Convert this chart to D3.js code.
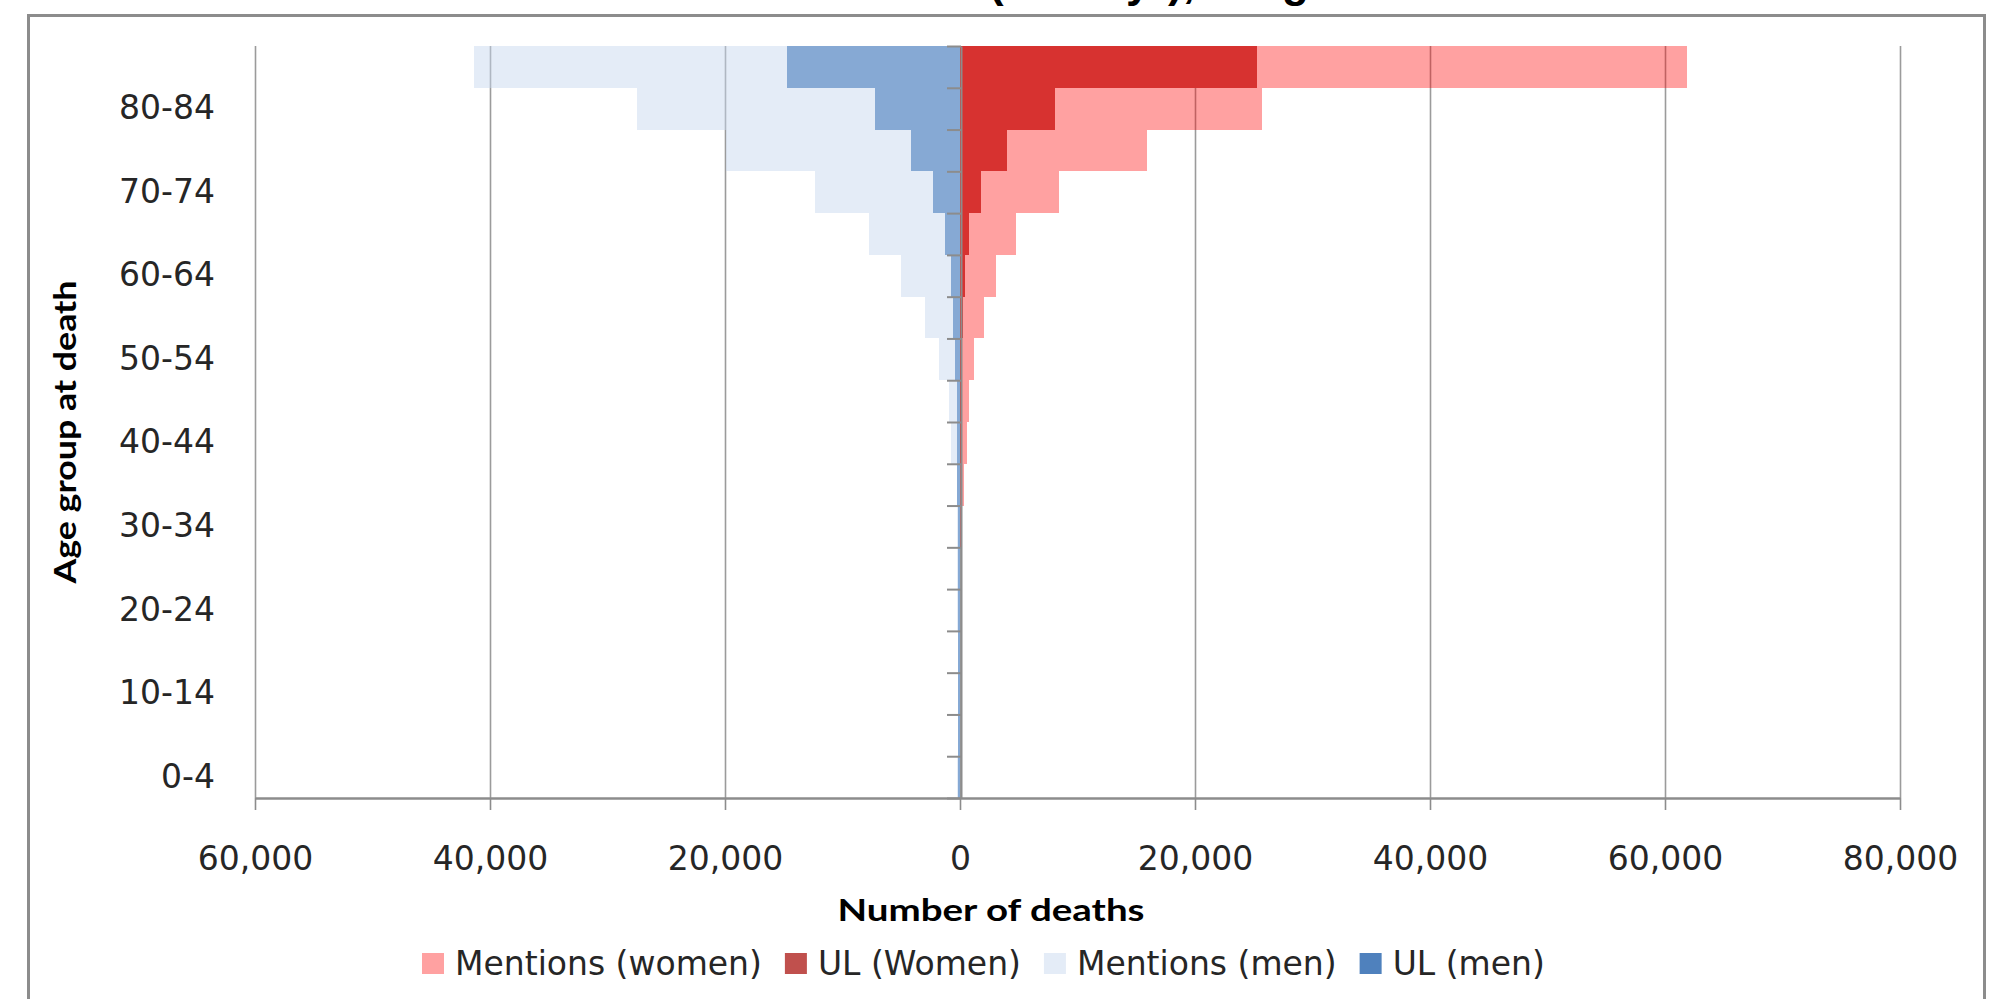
<!DOCTYPE html>
<html>
<head>
<meta charset="utf-8">
<script src="https://cdn.jsdelivr.net/npm/d3@7"></script>
<style>
  html, body { margin: 0; padding: 0; background: #ffffff; }
  svg { display: block; }
</style>
</head>
<body>
<svg id="chart" width="1999" height="999"></svg>
<script>
// ---------------- DATA ----------------
const categories = ["0-4","5-9","10-14","15-19","20-24","25-29","30-34","35-39","40-44",
                    "45-49","50-54","55-59","60-64","65-69","70-74","75-79","80-84","85+"];
const labelCategories = ["0-4","10-14","20-24","30-34","40-44","50-54","60-64","70-74","80-84"];
const mentionsWomen = [20, 10, 10, 15, 25, 40, 70, 330, 560, 760, 1220, 2080, 3080, 4780, 8430, 15900, 25700, 61900];
const ulWomen       = [5, 5, 5, 5, 5, 5, 10, 30, 60, 90, 140, 250, 400, 730, 1780, 3990, 8050, 25300];
const mentionsMen   = [220, 210, 210, 210, 220, 230, 240, 280, 750, 910, 1820, 2980, 5050, 7740, 12330, 19920, 27480, 41330];
const ulMen         = [200, 190, 190, 190, 200, 200, 210, 220, 240, 280, 400, 570, 750, 1260, 2310, 4180, 7250, 14720];
const xTicks = [-60000, -40000, -20000, 0, 20000, 40000, 60000, 80000];
const seriesNames = ["Mentions (women)", "UL (Women)", "Mentions (men)", "UL (men)"];
// title pieces (the title is mostly cut off by the top edge in the reference)
const titlePieces = [
  { text: "Deaths with dementia (UL/an", x: 1126, anchor: "end" },
  { text: "y", x: 1126, anchor: "start" },
  { text: "), En", x: 1168, anchor: "start" },
  { text: "gland and Wales", x: 1282, anchor: "start" }
];

// ---------------- LAYOUT ----------------
const svg = d3.select("#chart");
const plot = { left: 255, right: 1900, top: 46, bottom: 798 };
const FONT = "'DejaVu Sans', Verdana, sans-serif";
const TITLE_FONT = "Lato, 'Liberation Sans', sans-serif";

const colors = {
  ulWomen: "#C0504D",
  ulMen: "#4F81BD",
  mentionsWomen: "rgba(255,0,0,0.37)",
  mentionsMen: "rgba(197,214,238,0.47)"
};

const x = d3.scaleLinear().domain([-60000, 80000]).range([plot.left, plot.right]);
const y = d3.scaleBand().domain(categories.slice().reverse()).range([plot.top, plot.bottom]).padding(0);
const yIdx = d3.scaleLinear().domain([0, categories.length]).range([plot.bottom, plot.top]);

// outer chart border
svg.append("rect")
  .attr("x", 28.5).attr("y", 15.5)
  .attr("width", 1956).attr("height", 1010)
  .attr("fill", "#ffffff")
  .attr("stroke", "#8c8c8c").attr("stroke-width", 3);

// title (cut off at the top edge, as in the reference)
svg.append("g").selectAll("text").data(titlePieces).join("text")
  .attr("x", d => d.x).attr("y", -3)
  .attr("text-anchor", d => d.anchor)
  .attr("font-family", "'Liberation Sans', Arial, sans-serif")
  .attr("font-weight", "bold").attr("font-size", 44)
  .attr("fill", "#000")
  .text(d => d.text);

// vertical gridlines
const grid = svg.append("g")
  .attr("transform", `translate(0,${plot.bottom})`)
  .call(d3.axisBottom(x).tickValues(xTicks).tickSize(-(plot.bottom - plot.top)).tickFormat(""));
grid.select(".domain").remove();
grid.selectAll(".tick line").attr("stroke", "#9b9b9b").attr("stroke-width", 1.6);

// bars: UL (opaque) first, mentions (translucent) on top
const rows = categories.map((c, i) => ({
  cat: c, mw: mentionsWomen[i], uw: ulWomen[i], mm: mentionsMen[i], um: ulMen[i]
}));

function drawBars(key, sign, fill) {
  svg.append("g").selectAll("rect").data(rows).join("rect")
    .attr("x", d => sign > 0 ? x(0) : x(-d[key]))
    .attr("width", d => Math.abs(x(sign * d[key]) - x(0)))
    .attr("y", d => y(d.cat))
    .attr("height", y.bandwidth())
    .attr("fill", fill)
    .attr("shape-rendering", "crispEdges");
}
drawBars("uw", 1, colors.ulWomen);
drawBars("um", -1, colors.ulMen);
drawBars("mw", 1, colors.mentionsWomen);
drawBars("mm", -1, colors.mentionsMen);

// bottom axis with tick marks and labels
const xAxis = svg.append("g")
  .attr("transform", `translate(0,${plot.bottom})`)
  .call(d3.axisBottom(x).tickValues(xTicks).tickSizeInner(12).tickSizeOuter(0)
        .tickFormat(d => d3.format(",")(Math.abs(d))));
xAxis.select(".domain").attr("stroke", "#8c8c8c").attr("stroke-width", 2.5);
xAxis.selectAll(".tick line").attr("stroke", "#8c8c8c").attr("stroke-width", 1.6);
xAxis.selectAll(".tick text")
  .attr("y", 72).attr("dy", 0)
  .attr("font-family", FONT).attr("font-size", 33).attr("fill", "#262626");

// vertical axis at zero with tick marks between categories
const yAxis = svg.append("g")
  .attr("transform", `translate(${x(0) + 1},0)`)
  .call(d3.axisLeft(yIdx).tickValues(d3.range(0, categories.length + 1)).tickSizeInner(14).tickSizeOuter(0).tickFormat(""));
yAxis.select(".domain").attr("stroke", "#8c8c8c").attr("stroke-width", 2);
yAxis.selectAll(".tick line").attr("stroke", "#8c8c8c").attr("stroke-width", 2);

// category labels at the low (left) side
const yLabels = svg.append("g")
  .attr("transform", `translate(${plot.left},0)`)
  .call(d3.axisLeft(y).tickValues(labelCategories).tickSize(0).tickPadding(40));
yLabels.select(".domain").remove();
yLabels.selectAll(".tick text")
  .attr("dy", "0.32em")
  .attr("font-family", FONT).attr("font-size", 33).attr("fill", "#262626");

// axis titles
svg.append("text")
  .attr("x", 991).attr("y", 921)
  .attr("text-anchor", "middle")
  .attr("font-family", TITLE_FONT).attr("font-weight", "bold").attr("font-size", 31)
  .attr("textLength", 307).attr("lengthAdjust", "spacingAndGlyphs")
  .attr("fill", "#000")
  .text("Number of deaths");

svg.append("text")
  .attr("transform", "translate(76,432) rotate(-90)")
  .attr("text-anchor", "middle")
  .attr("font-family", TITLE_FONT).attr("font-weight", "bold").attr("font-size", 31)
  .attr("textLength", 303).attr("lengthAdjust", "spacingAndGlyphs")
  .attr("fill", "#000")
  .text("Age group at death");

// legend
const legendFills = [colors.mentionsWomen, colors.ulWomen, colors.mentionsMen, colors.ulMen];
let lx = 422;
seriesNames.forEach((name, i) => {
  svg.append("rect")
    .attr("x", lx).attr("y", 953).attr("width", 22).attr("height", 21)
    .attr("fill", legendFills[i]);
  const t = svg.append("text")
    .attr("x", lx + 33).attr("y", 975)
    .attr("font-family", FONT).attr("font-size", 33).attr("fill", "#262626")
    .text(name);
  lx = lx + 33 + t.node().getComputedTextLength() + 23;
});
</script>
</body>
</html>
